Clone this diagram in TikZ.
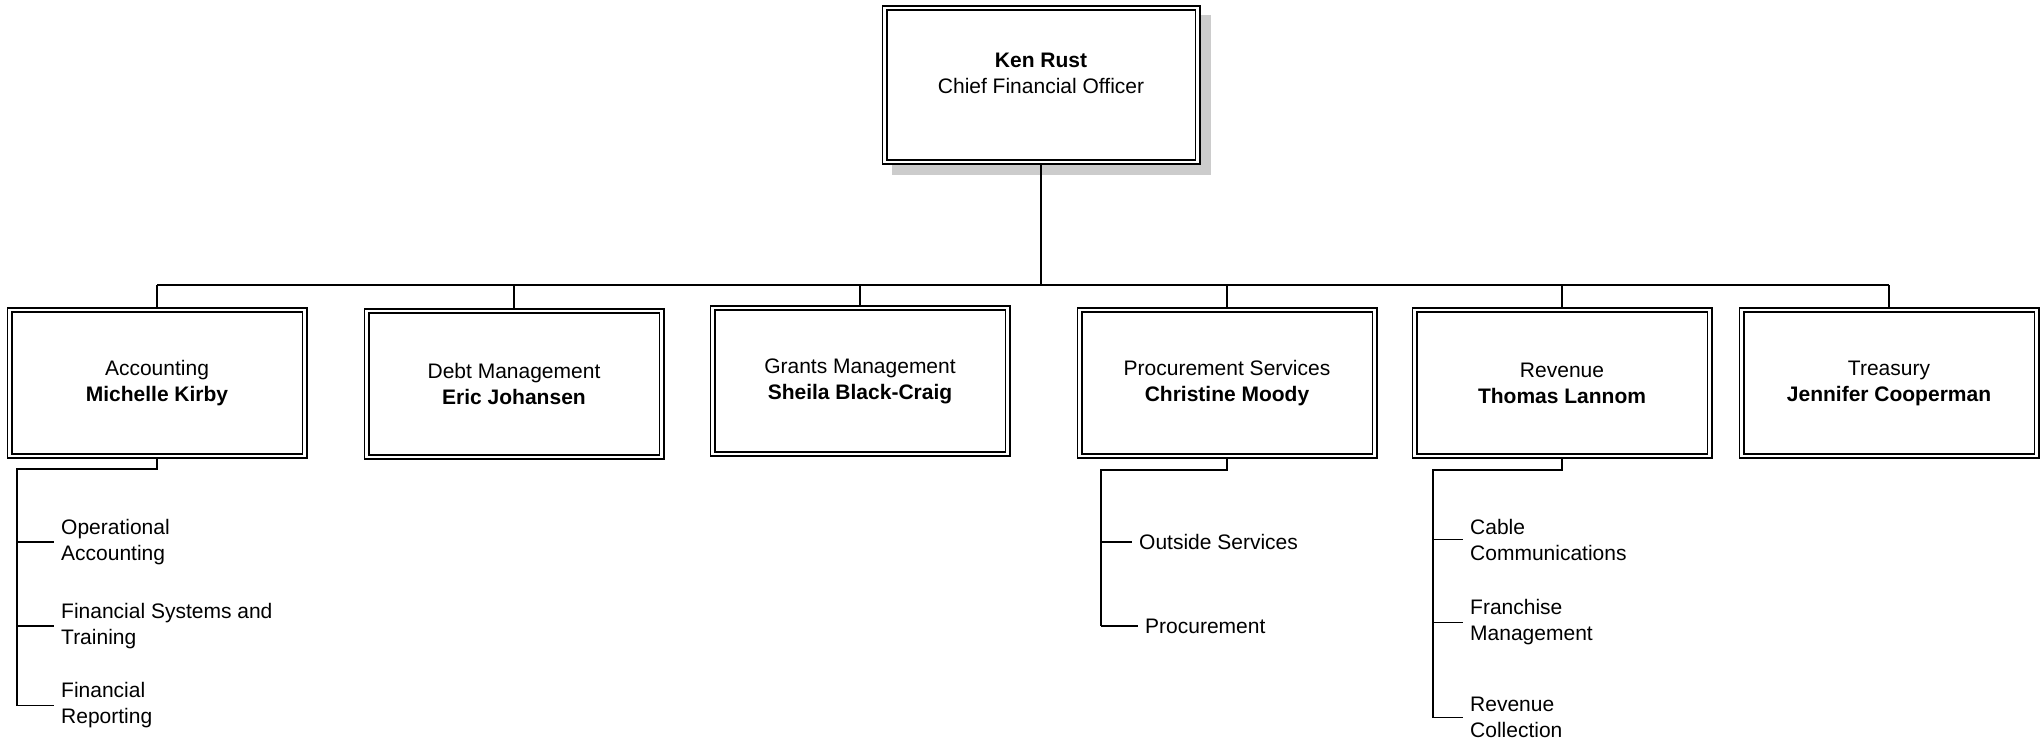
\documentclass[tikz,border=0pt]{standalone}
\usepackage{fontspec}
\setmainfont{Liberation Sans}
\usetikzlibrary{positioning,calc,backgrounds}

\begin{document}
\begin{tikzpicture}[
  x=1pt, y=-1pt,
  font=\fontsize{21}{26}\selectfont,
  unit/.style={rectangle, draw=black, fill=white, double, line width=1.6pt,
               double distance=2.8pt, outer sep=3pt, inner sep=0pt,
               minimum width=295pt, minimum height=146pt, align=center},
  head/.style={unit, minimum width=313pt, minimum height=154pt},
  item/.style={anchor=west, align=left, inner xsep=7pt, inner ysep=0pt},
  bus/.style={draw=black, line width=2.2pt},
  drop/.style={draw=black, line width=1.6pt},
  tick/.style={draw=black, line width=1.6pt}
]
\useasboundingbox (0,0) rectangle (2040,744);

% ---------- Head ----------
\node[head] (cfo) at (1041,85) {};
\node[align=center] (cfotitle) at (1041,73)
  {\textbf{Ken Rust}\\Chief Financial Officer};
\begin{scope}[on background layer]
  \fill[gray!40] ($(cfo.north west)+(10,10)$) rectangle ($(cfo.south east)+(10,10)$);
\end{scope}

% ---------- Divisions ----------
\node[unit] (acc) at (157,383) {Accounting\\\textbf{Michelle Kirby}};
\node[unit] (debt) at (514,384) {Debt Management\\\textbf{Eric Johansen}};
\node[unit] (grants) at (860,381) {Grants Management\\\textbf{Sheila Black-Craig}};
\node[unit] (proc) at (1227,383) {Procurement Services\\\textbf{Christine Moody}};
\node[unit] (rev) at (1562,383) {Revenue\\\textbf{Thomas Lannom}};
\node[unit] (treas) at (1889,383) {Treasury\\\textbf{Jennifer Cooperman}};

% bus from the head to every division
\coordinate (bus) at (1041,285);
\draw[bus] (cfo.south) -- (bus);
\draw[bus] (acc.north |- bus) -- (treas.north |- bus);
\foreach \u in {acc,debt,grants,proc,rev,treas}
  \draw[drop] (\u.north |- bus) -- (\u.north);

% ---------- Accounting sections ----------
\coordinate (accspine) at (17,469);
\node[item] (opacc) at (54,542) {Operational\\Accounting};
\node[item] (fsys) at (54,626) {Financial Systems and\\Training};
\node[item] (frep) at (54,705.5) {Financial\\Reporting};
\draw[bus] (acc.south) |- (accspine) -- (accspine |- frep.west);
\foreach \i in {opacc,fsys,frep}
  \draw[tick] (accspine |- \i.west) -- (\i.west);

% ---------- Procurement sections ----------
\coordinate (procspine) at (1101,470);
\node[item] (outs) at (1132,542) {Outside Services};
\node[item] (procu) at (1138,626) {Procurement};
\draw[bus] (proc.south) |- (procspine) -- (procspine |- procu.west);
\foreach \i in {outs,procu}
  \draw[tick] (procspine |- \i.west) -- (\i.west);

% ---------- Revenue sections ----------
\coordinate (revspine) at (1433,470);
\node[item] (cable) at (1463,539.5) {Cable\\Communications};
\node[item] (fran) at (1463,622.5) {Franchise\\Management};
\node[item] (rcol) at (1463,717.5) {Revenue\\Collection};
\draw[bus] (rev.south) |- (revspine) -- (revspine |- rcol.west);
\foreach \i in {cable,fran,rcol}
  \draw[tick] (revspine |- \i.west) -- (\i.west);

\end{tikzpicture}
\end{document}
